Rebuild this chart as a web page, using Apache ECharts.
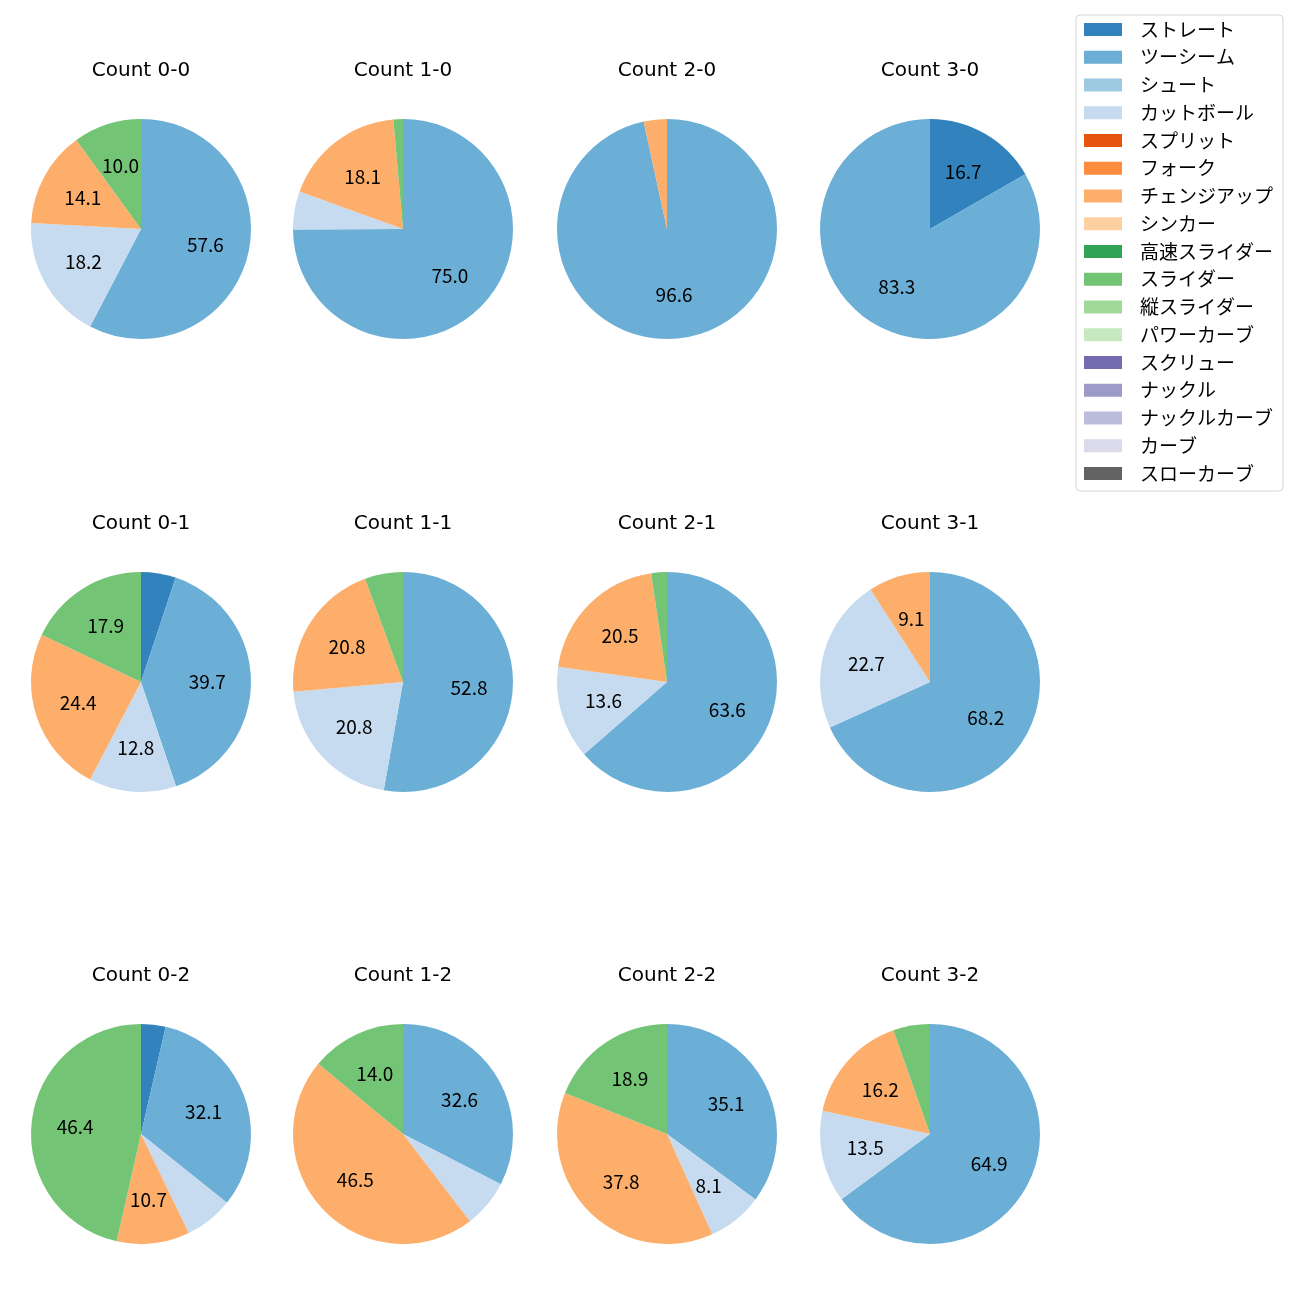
<!DOCTYPE html>
<html><head><meta charset="utf-8">
<script src="https://cdn.jsdelivr.net/npm/echarts@6/dist/echarts.min.js"></script>
<style>html,body{margin:0;padding:0;background:#fff}#c{width:1300px;height:1300px}</style>
</head><body><div id="c"></div>
<script>
// Pitch types (legend order) and matching tab20c colours
const pitchNames = ['ストレート','ツーシーム','シュート','カットボール','スプリット','フォーク','チェンジアップ','シンカー','高速スライダー','スライダー','縦スライダー','パワーカーブ','スクリュー','ナックル','ナックルカーブ','カーブ','スローカーブ'];
const pitchColors = ['#3182bd','#6baed6','#9ecae1','#c6dbef','#e6550d','#fd8d3c','#fdae6b','#fdd0a2','#31a354','#74c476','#a1d99b','#c7e9c0','#756bb1','#9e9ac8','#bcbddc','#dadaeb','#636363'];

// Share (%) of each pitch type per count
const countTitles = ['Count 0-0','Count 1-0','Count 2-0','Count 3-0','Count 0-1','Count 1-1','Count 2-1','Count 3-1','Count 0-2','Count 1-2','Count 2-2','Count 3-2'];
const c00 = [['ツーシーム',57.6],['カットボール',18.2],['チェンジアップ',14.1],['スライダー',10.0]];
const c10 = [['ツーシーム',75.0],['カットボール',5.6],['チェンジアップ',18.1],['スライダー',1.4]];
const c20 = [['ツーシーム',96.6],['チェンジアップ',3.4]];
const c30 = [['ストレート',16.7],['ツーシーム',83.3]];
const c01 = [['ストレート',5.1],['ツーシーム',39.7],['カットボール',12.8],['チェンジアップ',24.4],['スライダー',17.9]];
const c11 = [['ツーシーム',52.8],['カットボール',20.8],['チェンジアップ',20.8],['スライダー',5.6]];
const c21 = [['ツーシーム',63.6],['カットボール',13.6],['チェンジアップ',20.5],['スライダー',2.3]];
const c31 = [['ツーシーム',68.2],['カットボール',22.7],['チェンジアップ',9.1]];
const c02 = [['ストレート',3.6],['ツーシーム',32.1],['カットボール',7.1],['チェンジアップ',10.7],['スライダー',46.4]];
const c12 = [['ツーシーム',32.6],['カットボール',7.0],['チェンジアップ',46.5],['スライダー',14.0]];
const c22 = [['ツーシーム',35.1],['カットボール',8.1],['チェンジアップ',37.8],['スライダー',18.9]];
const c32 = [['ツーシーム',64.9],['カットボール',13.5],['チェンジアップ',16.2],['スライダー',5.4]];
const countData = [c00,c10,c20,c30,c01,c11,c21,c31,c02,c12,c22,c32];

const FONT = '"Noto Sans CJK JP","Noto Sans",sans-serif';
const TFONT = '"DejaVu Sans",sans-serif';
const colX = [141, 403, 667, 930];
const rowY = [229, 682, 1134];
const R = 110;
const colorOf = n => pitchColors[pitchNames.indexOf(n)];

const series = [];
const titles = [];
// legend provider (invisible)
series.push({
  type:'pie', radius:0, center:[-100,-100], silent:true, label:{show:false},
  data: pitchNames.map(n => ({name:n, value:1, itemStyle:{color:colorOf(n)}}))
});
countData.forEach((d, i) => {
  const cx = colX[i % 4], cy = rowY[Math.floor(i / 4)];
  titles.push({text: countTitles[i], left: cx, top: cy - 168, textAlign:'center', padding:0,
    textStyle:{fontFamily:TFONT, fontSize:20, fontWeight:'normal', color:'#000'}});
  const items = d.map(([n, v]) => ({name:n, value:v, itemStyle:{color:colorOf(n)}}));
  series.push({type:'pie', radius:[0,R], center:[cx,cy], startAngle:90, clockwise:true,
    silent:true, animation:false, label:{show:false}, labelLine:{show:false}, data:items});
  series.push({type:'pie', radius:[0.15*R,R], center:[cx,cy], startAngle:90, clockwise:true,
    silent:true, animation:false, labelLine:{show:false},
    label:{show:true, position:'inside', fontFamily:FONT, fontSize:19, color:'#000',
      formatter: p => p.value >= 7.5 ? p.value.toFixed(1) : ''},
    data: d.map(([n, v]) => ({name:n, value:v, itemStyle:{color:'rgba(0,0,0,0)'}}))});
});

const chart = echarts.init(document.getElementById('c'), null, {renderer:'canvas'});
chart.setOption({
  animation:false,
  title: titles,
  legend: {
    orient:'vertical', left:1076, top:15, icon:'rect', itemWidth:38, itemHeight:13, itemGap:8.75,
    padding:[5,10,8,8], borderColor:'#d5d5d5', borderWidth:1, borderRadius:4,
    textStyle:{fontFamily:FONT, fontSize:19, lineHeight:19, color:'#000', padding:[0,0,0,13]},
    data: pitchNames, selectedMode:false
  },
  series: series
});
</script></body></html>
